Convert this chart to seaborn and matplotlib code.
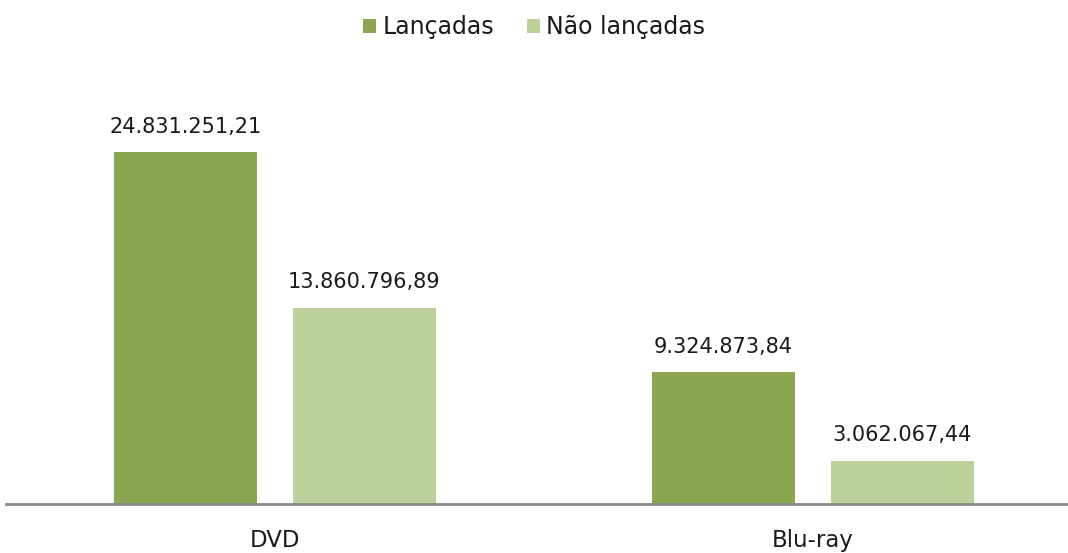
import matplotlib
matplotlib.use("Agg")
import matplotlib.pyplot as plt
import seaborn as sns
import pandas as pd

categories = ["DVD", "Blu-ray"]
series = ["Lançadas", "Não lançadas"]
lancadas = [24831251.21, 9324873.84]
nao_lancadas = [13860796.89, 3062067.44]
colors = ["#8AA650", "#BCD09A"]

df = pd.DataFrame({
    "cat": categories * 2,
    "serie": [series[0]] * 2 + [series[1]] * 2,
    "valor": lancadas + nao_lancadas,
})

sns.set_theme(style="white")
plt.rcParams["font.family"] = ["DejaVu Sans"]

fig = plt.figure(figsize=(10.68, 5.53), dpi=100)
W, H = 1068, 553
left_px, right_px, top_px, bottom_px = 6, 1082, 60, 504
ax = fig.add_axes([left_px / W, 1 - bottom_px / H, (right_px - left_px) / W, (bottom_px - top_px) / H])

sns.barplot(data=df, x="cat", y="valor", hue="serie", order=categories, hue_order=series,
            palette=colors, width=0.665, gap=0.2, ax=ax, legend=False, saturation=1,
            linewidth=0)

ax.set_xlim(-0.5, 1.5)
ax.set_ylim(0, 24831251.21 * (bottom_px - top_px) / 352)

def fmt(v):
    s = f"{v:,.2f}"
    return s.replace(",", "X").replace(".", ",").replace("X", ".")

for cont in ax.containers:
    labels = [fmt(b.get_height()) for b in cont]
    ax.bar_label(cont, labels=labels, padding=11, fontsize=15, color="#1a1a1a")

for s in ["top", "right", "left"]:
    ax.spines[s].set_visible(False)
ax.spines["bottom"].set_color("#898989")
ax.spines["bottom"].set_linewidth(2)
ax.set_yticks([])
ax.set_xlabel("")
ax.set_ylabel("")
ax.tick_params(axis="x", length=0, labelsize=16.5, pad=18, colors="#1a1a1a")

from matplotlib.patches import Patch
handles = [Patch(facecolor=c, edgecolor="none") for c in colors]
fig.legend(handles, series, loc="center", bbox_to_anchor=(0.5, 1 - 27 / H), ncol=2,
           frameon=False, fontsize=17, handlelength=0.55, handleheight=0.55,
           handletextpad=0.25, columnspacing=1.4, labelcolor="#1a1a1a")

fig.savefig("out.png", dpi=100)
